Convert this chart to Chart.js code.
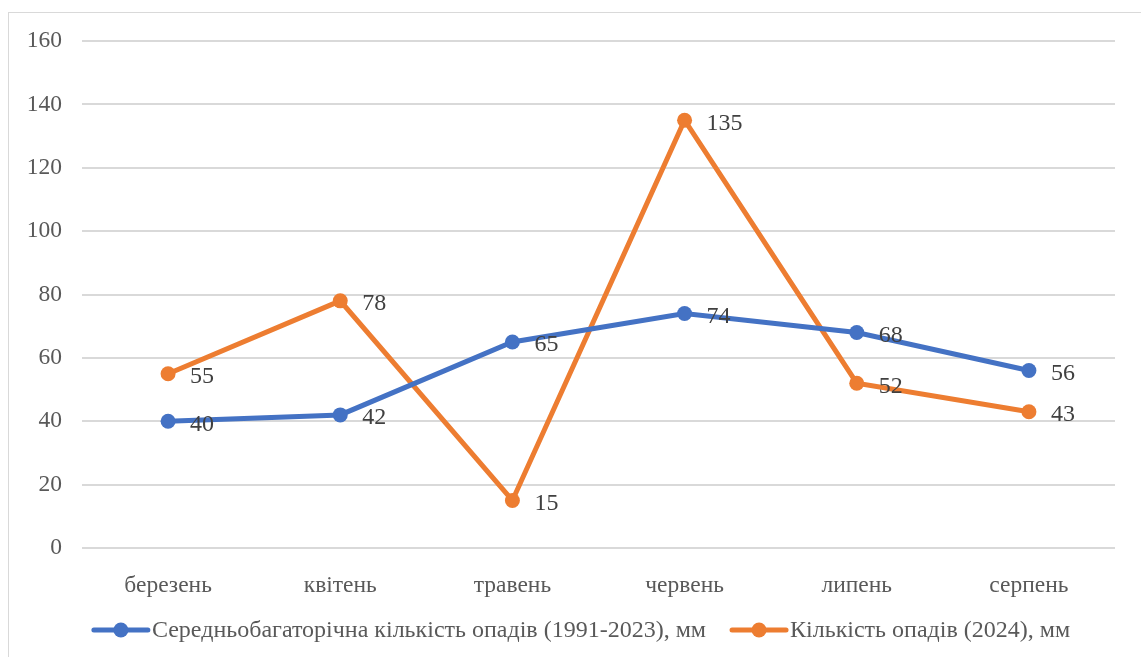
<!DOCTYPE html>
<html>
<head>
<meta charset="utf-8">
<script src="https://cdn.jsdelivr.net/npm/chart.js@4.4.1/dist/chart.umd.min.js"></script>
<style>
  html, body { margin: 0; padding: 0; background: #ffffff; overflow: hidden; }
  #wrap { position: relative; width: 1141px; height: 657px; }
  #frame { position: absolute; left: 8px; top: 12px; width: 1200px; height: 700px;
           border: 1px solid #d9d9d9; pointer-events: none; }
  canvas { position: absolute; left: 0; top: 0; }
</style>
</head>
<body>
<div id="wrap">
  <canvas id="chart" width="1141" height="657"></canvas>
  <div id="frame"></div>
</div>
<script>
// Місяці вегетаційного періоду
const months = ['березень', 'квітень', 'травень', 'червень', 'липень', 'серпень'];
// Середньобагаторічна кількість опадів, мм
const normalPrecip = [40, 42, 65, 74, 68, 56];
// Кількість опадів у 2024 році, мм
const precip2024 = [55, 78, 15, 135, 52, 43];
const seriesNames = [
  'Середньобагаторічна кількість опадів (1991-2023), мм',
  'Кількість опадів (2024), мм'
];
const yTicks = [0, 20, 40, 60, 80, 100, 120, 140, 160];

const FONT = '"Liberation Serif", "Times New Roman", serif';
const BLUE = '#4472C4';
const ORANGE = '#ED7D31';

// Value labels to the right of each point
const valueLabels = {
  id: 'valueLabels',
  afterDatasetsDraw(chart) {
    const ctx = chart.ctx;
    ctx.save();
    ctx.font = '24px ' + FONT;
    ctx.fillStyle = '#404040';
    ctx.textAlign = 'left';
    ctx.textBaseline = 'middle';
    chart.data.datasets.forEach((ds, i) => {
      const meta = chart.getDatasetMeta(i);
      meta.data.forEach((pt, j) => {
        ctx.fillText(String(ds.data[j]), pt.x + 22, pt.y + 3);
      });
    });
    ctx.restore();
  }
};

// Legend row: line with a marker, followed by the series name
const lineLegend = {
  id: 'lineLegend',
  afterDraw(chart) {
    const ctx = chart.ctx;
    ctx.save();
    ctx.font = '24px ' + FONT;
    const markW = 58, gapText = 2, gapItem = 24;
    const items = chart.data.datasets.map(ds => ({
      ds, w: markW + gapText + ctx.measureText(ds.label).width
    }));
    const total = items.reduce((s, it) => s + it.w, 0) + gapItem * (items.length - 1);
    let x = 581 - total / 2;
    const y = 630;
    items.forEach(it => {
      ctx.strokeStyle = it.ds.borderColor;
      ctx.lineWidth = 5;
      ctx.lineCap = 'round';
      ctx.beginPath();
      ctx.moveTo(x + 2, y);
      ctx.lineTo(x + markW - 2, y);
      ctx.stroke();
      ctx.fillStyle = it.ds.borderColor;
      ctx.beginPath();
      ctx.arc(x + markW / 2, y, 7.5, 0, Math.PI * 2);
      ctx.fill();
      ctx.fillStyle = '#595959';
      ctx.textAlign = 'left';
      ctx.textBaseline = 'middle';
      ctx.fillText(it.ds.label, x + markW + gapText, y + 1);
      x += it.w + gapItem;
    });
    ctx.restore();
  }
};

const makeSeries = (label, data, color) => ({
  label, data,
  borderColor: color,
  backgroundColor: color,
  borderWidth: 5,
  pointRadius: 7.5,
  pointHoverRadius: 7.5,
  pointBackgroundColor: color,
  pointBorderWidth: 0,
  tension: 0
});

new Chart(document.getElementById('chart'), {
  type: 'line',
  data: {
    labels: months,
    datasets: [
      makeSeries(seriesNames[0], normalPrecip, BLUE),
      makeSeries(seriesNames[1], precip2024, ORANGE)
    ]
  },
  options: {
    responsive: false,
    animation: false,
    layout: { padding: { left: 0, right: 26, top: 41, bottom: 60 } },
    plugins: {
      legend: { display: false },
      tooltip: { enabled: false }
    },
    scales: {
      x: {
        offset: true,
        grid: { display: false },
        border: { display: false },
        ticks: { color: '#595959', font: { family: FONT, size: 23.5 }, padding: 16, maxRotation: 0 },
        afterFit(scale) { scale.height = 49; scale.paddingLeft = 0; scale.paddingRight = 0; }
      },
      y: {
        min: yTicks[0],
        max: yTicks[yTicks.length - 1],
        afterBuildTicks(scale) { scale.ticks = yTicks.map(v => ({ value: v })); },
        grid: { color: '#d9d9d9', lineWidth: 2, drawTicks: false },
        border: { display: false },
        ticks: { color: '#595959', font: { family: FONT, size: 23.5 }, padding: 20 },
        afterFit(scale) { scale.width = 82; scale.paddingTop = 0; scale.paddingBottom = 0; }
      }
    }
  },
  plugins: [valueLabels, lineLegend]
});
</script>
</body>
</html>
